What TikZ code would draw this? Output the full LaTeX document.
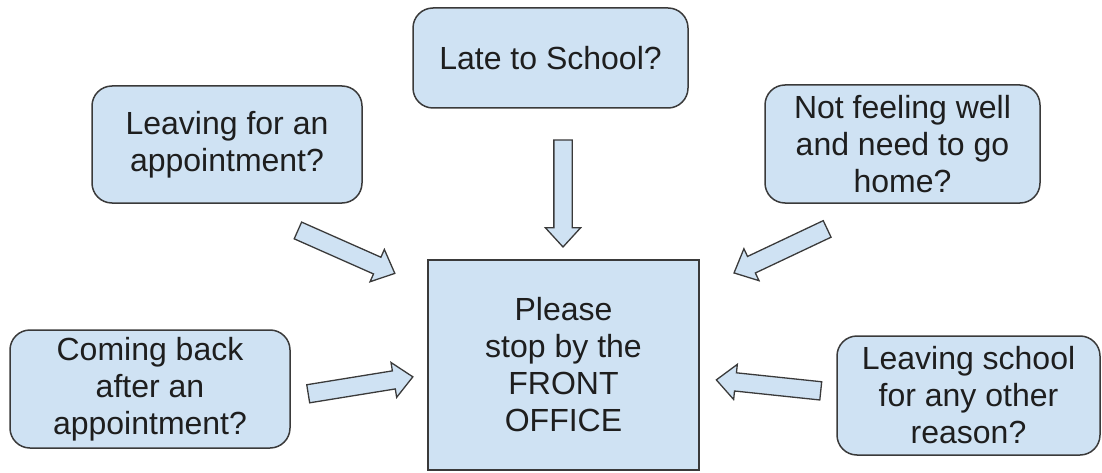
\documentclass[tikz,border=0pt]{standalone}
\usepackage{fontspec}
\setmainfont{Liberation Sans}
\usetikzlibrary{shapes.arrows}
\definecolor{boxfill}{HTML}{CFE2F3}
\definecolor{boxline}{HTML}{3A3A3A}
\definecolor{txt}{HTML}{1E1E1E}
\tikzset{
  qbox/.style={draw=boxline, fill=boxfill, line width=1.5pt, rounded corners=20pt,
    align=center, text=txt, inner sep=0pt, font=\fontsize{32}{37}\selectfont},
  mainbox/.style={qbox, rounded corners=0pt},
  blockarrow/.style={single arrow, draw=boxline, fill=boxfill, line width=1.3pt,
    inner xsep=0pt, inner ysep=8.5pt, text height=0pt, text depth=0pt,
    single arrow head extend=8.5pt,
    single arrow tip angle=85, shape border uses incircle=false}
}
\begin{document}
\begin{tikzpicture}[x=1pt,y=-1pt]
\useasboundingbox (0,0) rectangle (1102,473);
\node[qbox, minimum width=275pt, minimum height=100pt] (late) at (550.5,58) {Late to School?};
\node[qbox, minimum width=270pt, minimum height=117pt] (leave) at (227,144.5) {Leaving for an\\appointment?};
\node[qbox, minimum width=275pt, minimum height=118pt] (ill) at (902.5,144) {Not feeling well\\and need to go\\home?};
\node[mainbox, minimum width=271pt, minimum height=210pt] (office) at (563.5,365) {Please\\stop by the\\FRONT\\OFFICE};
\node[qbox, minimum width=280pt, minimum height=118pt] (back) at (150,389) {Coming back\\after an\\appointment?};
\node[qbox, minimum width=263pt, minimum height=119pt] (other) at (968.5,395.5) {Leaving school\\for any other\\reason?};
\node[blockarrow, minimum height=107pt, rotate=-90] (a1) at (563,188.5) {};
\node[blockarrow, minimum height=106pt, rotate=-23.9] (a2) at (341.8,249.9) {};
\node[blockarrow, minimum height=103pt, rotate=205.3] (a3) at (785.1,248.8) {};
\node[blockarrow, minimum height=106pt, rotate=9.2] (a4) at (355.6,386.1) {};
\node[blockarrow, minimum height=105pt, rotate=174] (a5) at (773.5,385.9) {};
\end{tikzpicture}
\end{document}
